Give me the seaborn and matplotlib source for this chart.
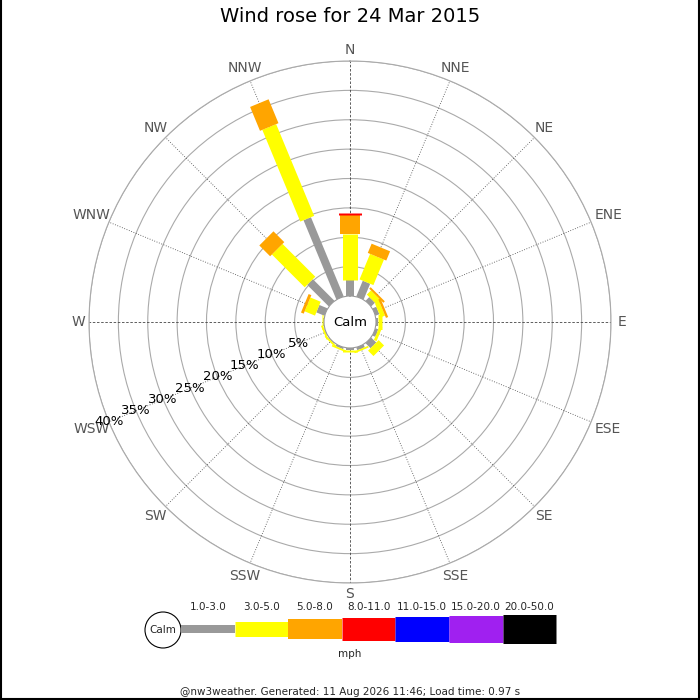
import numpy as np
import matplotlib
matplotlib.use("Agg")
import matplotlib.pyplot as plt
from matplotlib.patches import Circle
import seaborn as sns

# ---------------- data ----------------
directions = ["N", "NNE", "NE", "ENE", "E", "ESE", "SE", "SSE",
              "S", "SSW", "SW", "WSW", "W", "WNW", "NW", "NNW"]
speed_labels = ["1.0-3.0", "3.0-5.0", "5.0-8.0", "8.0-11.0",
                "11.0-15.0", "15.0-20.0", "20.0-50.0"]
# percentage of time per direction for each speed range
pct_1_3 = [2.7, 2.9, 0.9, 0.7, 0.4, 0.5, 1.2, 0.5, 0.4, 0.3, 0.1, 0.1, 0.1, 1.5, 5.2, 14.6]
pct_3_5 = [7.8, 4.7, 1.0, 0.8, 0.6, 0.5, 1.3, 0.3, 0.3, 0.3, 0.3, 0.3, 0.3, 1.9, 7.9, 16.9]
pct_5_8 = [3.3, 1.7, 0.35, 0.4, 0.0, 0.0, 0.0, 0.0, 0.0, 0.0, 0.0, 0.0, 0.0, 0.5, 2.6, 4.4]
pct_8_11 = [0.4, 0, 0, 0, 0, 0, 0, 0, 0, 0, 0, 0, 0, 0, 0, 0]
pct_11_15 = [0] * 16
pct_15_20 = [0] * 16
pct_20_50 = [0] * 16
ring_ticks = [5, 10, 15, 20, 25, 30, 35, 40]

title = "Wind rose for 24 Mar 2015"
footer = "@nw3weather. Generated: 11 Aug 2026 11:46; Load time: 0.97 s"

# ---------------- style ----------------
sns.set_theme(style="white")
plt.rcParams["font.family"] = ["DejaVu Sans"]

colors = ["#999999", "#ffff00", "#ffa500", "#ff0000", "#0000ff", "#a020f0", "#000000"]
widths_px = [8, 15, 20, 23, 25, 27, 29]
PT = 0.72  # points per pixel at 100 dpi

W = H = 700
cx, cy = 350, 322
r_out = 261
r_calm = 26
rmax = ring_ticks[-1]
px_per = (r_out - r_calm) / rmax
rorig = -r_calm / px_per

fig = plt.figure(figsize=(7, 7), dpi=100)
fig.patch.set_facecolor("white")

ax = fig.add_axes([(cx - r_out) / W, (H - cy - r_out) / H, 2 * r_out / W, 2 * r_out / H],
                  projection="polar")
ax.set_theta_zero_location("N")
ax.set_theta_direction(-1)
ax.set_ylim(0, rmax)
ax.set_rorigin(rorig)
ax.set_facecolor("white")
ax.set_yticks(ring_ticks)
ax.set_yticklabels([])
ax.set_xticks([])
ax.yaxis.grid(True, color="#aaaaaa", linewidth=0.8, linestyle="-")
ax.xaxis.grid(False)
ax.spines["polar"].set_color("#aaaaaa")
ax.spines["polar"].set_linewidth(0.8)
if "inner" in ax.spines:
    ax.spines["inner"].set_visible(True)
    ax.spines["inner"].set_color("#999999")
    ax.spines["inner"].set_linewidth(0.8)

angles = np.deg2rad(np.arange(16) * 22.5)

# direction lines
for i, th in enumerate(angles):
    if i % 4 == 0:
        ax.plot([th, th], [0, rmax], color="#444444", lw=0.6, ls=(0, (3, 2)), zorder=1)
    else:
        ax.plot([th, th], [0, rmax], color="#444444", lw=0.6, ls=(0, (1, 2)), zorder=1)

# legs
series = [pct_1_3, pct_3_5, pct_5_8, pct_8_11, pct_11_15, pct_15_20, pct_20_50]
for i, th in enumerate(angles):
    start = 0.0
    for k, s in enumerate(series):
        v = s[i]
        if v <= 0:
            continue
        ax.plot([th, th], [start, start + v], color=colors[k], lw=widths_px[k] * PT,
                solid_capstyle="butt", zorder=3 + k, clip_on=False)
        start += v

# percent labels along WSW
lab_th = np.deg2rad(247.5)
for p in ring_ticks:
    ax.text(lab_th, p, f"{p}%", ha="center", va="center", fontsize=9.5,
            color="black", zorder=10)

# compass labels
for i, (th, lab) in enumerate(zip(angles, directions)):
    rpx = 272 + 8 * abs(np.sin(th)) * (len(lab) - 1) / 2
    ax.text(th, rpx / px_per + rorig, lab, ha="center", va="center", fontsize=10,
            color="#555555", clip_on=False)

ax.text(0.5, 0.5, "Calm", transform=ax.transAxes, ha="center", va="center",
        fontsize=9.5, color="black", zorder=12)

# ---------------- overlay (title, legend, footer) ----------------
lax = fig.add_axes([0, 0, 1, 1], zorder=-1)
lax.set_xlim(0, W)
lax.set_ylim(H, 0)
lax.axis("off")
lax.patch.set_alpha(0)

fig.text(0.5, 1 - 17 / H, title, ha="center", va="center", fontsize=14, color="black")

leg_y = 629
calm_c = (163, 630)
calm_r = 18
lax.add_patch(Circle(calm_c, calm_r, fill=False, ec="black", lw=0.8))
lax.text(calm_c[0], calm_c[1], "Calm", ha="center", va="center", fontsize=7.5)
seg = 53.6
x0 = calm_c[0] + calm_r
for k, lab in enumerate(speed_labels):
    xs = x0 + k * seg
    lax.plot([xs, xs + seg], [leg_y, leg_y], color=colors[k], lw=widths_px[k] * PT,
             solid_capstyle="butt")
    lax.text(xs + seg / 2, 607, lab, ha="center", va="center", fontsize=7.5)
lax.text(350, 654, "mph", ha="center", va="center", fontsize=7.5)
lax.text(350, 692, footer, ha="center", va="center", fontsize=7.5)

# frame
lax.plot([0.5, 0.5], [0, H], color="black", lw=1.5, clip_on=False)
lax.plot([W - 1, W - 1], [0, H], color="black", lw=1.5, clip_on=False)
lax.plot([0, W], [H - 1, H - 1], color="black", lw=1.5, clip_on=False)

fig.savefig("out.png", dpi=100, facecolor="white")
